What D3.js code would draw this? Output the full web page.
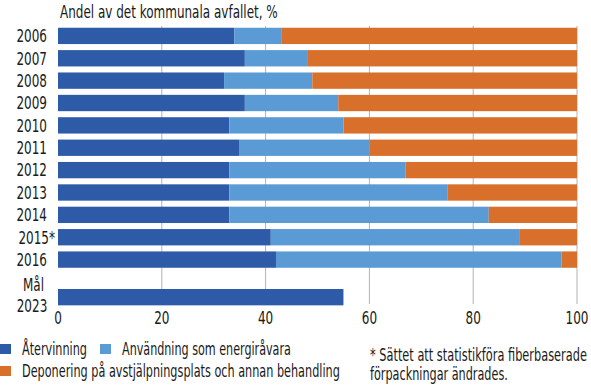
<!DOCTYPE html>
<html><head><meta charset="utf-8">
<script src="https://cdn.jsdelivr.net/npm/d3@7"></script>
<style>
body{margin:0;background:#fff;}
text{font-family:"DejaVu Sans Condensed","DejaVu Sans",sans-serif;font-stretch:condensed;fill:#1a1a1a;}
</style></head><body>
<svg id="c" width="591" height="389"></svg>
<script>
const years = ["2006","2007","2008","2009","2010","2011","2012","2013","2014","2015*","2016"];
const atervinning = [34,36,32,36,33,35,33,33,33,41,42];
const energi =      [9,12,17,18,22,25,34,42,50,48,55];
const deponering =  [57,52,51,46,45,40,33,25,17,11,3];
const goalLabel = ["Mål","2023"];
const goalValue = 55;
const xTicks = [0,20,40,60,80,100];
const seriesNames = ["Återvinning","Användning som energiråvara","Deponering på avstjälpningsplats och annan behandling"];
const colors = ["#2d5ba8","#5b9bd5","#d8702b"];
const title = "Andel av det kommunala avfallet, %";
const footnote = ["* Sättet att statistikföra fiberbaserade","förpackningar ändrades."];

const svg = d3.select("#c");
const FS = 17.5;
function natural(str){
  const t = svg.append("text").attr("font-size",FS).text(str);
  const w = t.node().getComputedTextLength(); t.remove(); return w;
}
const k = 218 / natural(title);
function txt(px,py,str,anchor,targetW){
  const kk = targetW ? targetW/natural(String(str)) : k;
  return svg.append("text").attr("transform",`translate(${px},${py}) scale(${kk},1)`)
    .attr("dy","0.36em").attr("text-anchor",anchor||"start").attr("font-size",FS).text(str);
}

const x = d3.scaleLinear().domain([0,100]).range([58,577]);
const y = d3.scaleBand().domain(years).range([25.5,270]).paddingInner(0.27).paddingOuter(0.1);
const bh = y.bandwidth();
const goalY = y(years[years.length-1]) + y.step()*1.68;

// gridlines
svg.append("g").selectAll("line").data(xTicks.slice(1)).join("line")
  .attr("x1",d=>x(d)).attr("x2",d=>x(d)).attr("y1",26).attr("y2",304)
  .attr("stroke","#b3b3b3").attr("stroke-width",1);

// stacked bars
const rows = years.map((yr,i)=>({yr, vals:[atervinning[i],energi[i],deponering[i]]}));
const g = svg.append("g");
rows.forEach(r=>{
  let acc=0;
  r.vals.forEach((v,j)=>{
    g.append("rect").attr("x",x(acc)).attr("y",y(r.yr)).attr("width",x(acc+v)-x(acc)).attr("height",bh).attr("fill",colors[j]);
    acc+=v;
  });
});
g.append("rect").attr("x",x(0)).attr("y",goalY).attr("width",x(goalValue)-x(0)).attr("height",bh).attr("fill",colors[0]);

// y labels
years.forEach(d=>txt(d.endsWith("*")?55:47, y(d)+bh/2, d, "end"));
txt(33.5, goalY-4, goalLabel[0], "middle");
txt(32, goalY+17, goalLabel[1], "middle");

// x tick labels
xTicks.forEach(d=>txt(x(d), 318, d, "middle"));

// title
txt(60, 12, title);

// legend
const leg = [{i:0,x:0,y:349,w:65},{i:1,x:100,y:349,w:169},{i:2,x:0,y:371,w:318}];
leg.forEach(l=>{
  svg.append("rect").attr("x",l.x).attr("y",l.y-5).attr("width",11).attr("height",10).attr("fill",colors[l.i]);
  txt(l.x+22, l.y, seriesNames[l.i], "start", l.w);
});
const fw = [217, 138];
footnote.forEach((t,i)=>txt(370, 355+i*19, t, "start", fw[i]));
</script></body></html>
